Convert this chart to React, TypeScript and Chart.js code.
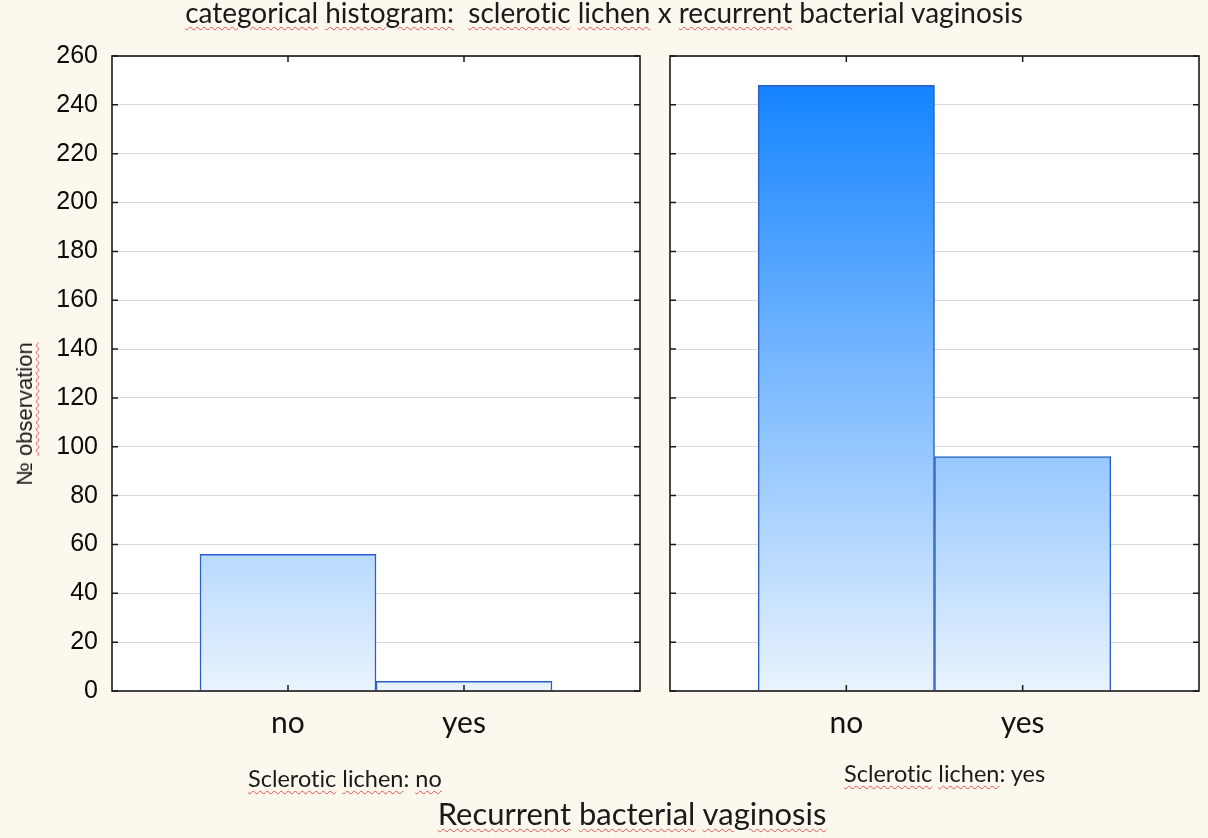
import React, { useEffect, useRef } from "react";
import { Chart, registerables } from "chart.js";

Chart.register(...registerables);

// ---- data ----
const categories = ["no", "yes"];
const lichenNoCounts = [56, 4];
const lichenYesCounts = [248, 96];
const yMin = 0;
const yMax = 260;
const yStep = 20;

// ---- style ----
const BG = "#fdf8ee";
const FONT_TICK = "'Liberation Sans', Arial, sans-serif";
const FONT_TEXT = "Lato, 'Open Sans', sans-serif";
const peak = Math.max(...lichenNoCounts, ...lichenYesCounts);

const panelPlugin = {
  id: "panelFrame",
  beforeDraw(chart: any) {
    const { ctx, chartArea: a } = chart;
    ctx.save();
    ctx.fillStyle = "#ffffff";
    ctx.fillRect(a.left, a.top, a.right - a.left, a.bottom - a.top);
    ctx.restore();
  },
  afterDraw(chart: any) {
    const { ctx, chartArea: a, scales } = chart;
    const xs = scales.x;
    const ys = scales.y;
    ctx.save();
    ctx.strokeStyle = "#1a1a1a";
    ctx.lineWidth = 1.5;
    ctx.beginPath();
    ys.ticks.forEach((t: any) => {
      const py = ys.getPixelForValue(t.value);
      ctx.moveTo(a.left, py);
      ctx.lineTo(a.left + 6, py);
      ctx.moveTo(a.right - 6, py);
      ctx.lineTo(a.right, py);
    });
    xs.ticks.forEach((t: any, i: number) => {
      if (!xs.getLabelForValue(t.value)) return;
      const px = xs.getPixelForTick(i);
      ctx.moveTo(px, a.bottom);
      ctx.lineTo(px, a.bottom - 6);
      ctx.moveTo(px, a.top);
      ctx.lineTo(px, a.top + 6);
    });
    ctx.stroke();
    ctx.lineWidth = 1.6;
    ctx.strokeRect(a.left, a.top, a.right - a.left, a.bottom - a.top);
    ctx.restore();
  },
};

function makeConfig(values: number[], showYLabels: boolean, padding: any, yWidth: number): any {
  const labels = ["", ...categories, ""];
  const data = [null, ...values, null];
  return {
    type: "bar",
    data: {
      labels,
      datasets: [
        {
          data,
          backgroundColor: (c: any) => {
            const chart = c.chart;
            if (!chart.chartArea) return "#8fc4fc";
            const ys = chart.scales.y;
            const g = chart.ctx.createLinearGradient(0, ys.getPixelForValue(peak), 0, ys.getPixelForValue(0));
            g.addColorStop(0, "rgb(20,132,255)");
            g.addColorStop(1, "rgb(233,243,254)");
            return g;
          },
          borderColor: "#2a5ec8",
          borderWidth: 1.5,
          borderSkipped: "bottom",
          barPercentage: 1,
          categoryPercentage: 1,
        },
      ],
    },
    options: {
      animation: false,
      responsive: false,
      maintainAspectRatio: false,
      layout: { padding },
      plugins: {
        legend: { display: false },
        tooltip: { enabled: false },
        title: { display: false },
      },
      scales: {
        x: {
          type: "category",
          offset: false,
          grid: { display: false, drawTicks: false },
          border: { display: false },
          ticks: {
            autoSkip: false,
            maxRotation: 0,
            padding: 14,
            color: "#111",
            font: { family: FONT_TEXT, size: 30 },
          },
          afterFit: (s: any) => {
            s.height = 147;
          },
        },
        y: {
          min: yMin,
          max: yMax,
          ticks: {
            stepSize: yStep,
            display: showYLabels,
            padding: 14,
            color: "#0a0a0a",
            font: { family: FONT_TICK, size: 25 },
          },
          grid: { color: "#d9d9d9", lineWidth: 1, drawTicks: false },
          border: { display: false },
          afterFit: (s: any) => {
            s.width = yWidth;
          },
        },
      },
    },
    plugins: [panelPlugin],
  };
}

const squiggle: React.CSSProperties = {
  textDecorationLine: "underline",
  textDecorationStyle: "wavy",
  textDecorationColor: "#e5534f",
  textDecorationThickness: "1px",
  textUnderlineOffset: "3px",
};

function W({ children }: { children: React.ReactNode }) {
  return <span style={squiggle}>{children}</span>;
}

function Label({ left, baseline, size, center, children }: any) {
  const top = baseline - 0.887 * size;
  return (
    <div
      style={{
        position: "absolute",
        left,
        top,
        fontFamily: FONT_TEXT,
        fontSize: size,
        lineHeight: 1,
        color: "#1a1a1a",
        whiteSpace: "pre",
        fontVariantLigatures: "none",
        transform: center ? "translateX(-50%)" : undefined,
      }}
    >
      {children}
    </div>
  );
}

export default function App() {
  const leftRef = useRef<HTMLCanvasElement | null>(null);
  const rightRef = useRef<HTMLCanvasElement | null>(null);

  useEffect(() => {
    const c1 = new Chart(leftRef.current as HTMLCanvasElement, makeConfig(lichenNoCounts, true, { left: 0, top: 56, right: 15, bottom: 0 }, 112));
    const c2 = new Chart(rightRef.current as HTMLCanvasElement, makeConfig(lichenYesCounts, false, { left: 0, top: 56, right: 14, bottom: 0 }, 15));
    return () => {
      c1.destroy();
      c2.destroy();
    };
  }, []);

  return (
    <div style={{ position: "fixed", left: 0, top: 0, width: 1208, height: 838, background: BG, overflow: "hidden" }}>
      <canvas ref={leftRef} width={655} height={838} style={{ position: "absolute", left: 0, top: 0 }} />
      <canvas ref={rightRef} width={558} height={838} style={{ position: "absolute", left: 655, top: 0 }} />
      <Label left={604} baseline={23} size={28} center>
        <W>categorical</W> <W>histogram:</W>  <W>sclerotic</W> <W>lichen</W> x <W>recurrent</W> bacterial vaginosis
      </Label>
      <Label left={248} baseline={788} size={23.5}>
        <W>Sclerotic</W> <W>lichen</W>: <W>no</W>
      </Label>
      <Label left={844} baseline={783} size={23.5}>
        <W>Sclerotic</W> <W>lichen</W>: yes
      </Label>
      <Label left={632} baseline={825} size={31} center>
        <W>Recurrent</W> <W>bacterial</W> <W>vaginosis</W>
      </Label>
      <div
        style={{
          position: "absolute",
          left: 25,
          top: 414,
          transform: "translate(-50%, -50%) rotate(-90deg)",
          fontFamily: FONT_TICK,
          fontSize: 22,
          lineHeight: 1,
          color: "#1a1a1a",
          whiteSpace: "pre",
        }}
      >
        № <W>observation</W>
      </div>
    </div>
  );
}
